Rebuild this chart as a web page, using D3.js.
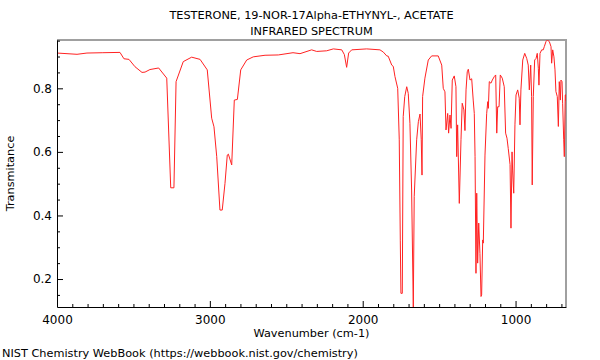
<!DOCTYPE html>
<html><head><meta charset="utf-8">
<script src="https://cdn.jsdelivr.net/npm/d3@7"></script>
<style>body{margin:0;background:#fff}svg{display:block}text{font-family:"DejaVu Sans",sans-serif;fill:#000}</style>
</head><body>
<svg id="c" width="600" height="360"></svg>
<script>
const titleLines = ["TESTERONE, 19-NOR-17Alpha-ETHYNYL-, ACETATE", "INFRARED SPECTRUM"];
const xLabel = "Wavenumber (cm-1)";
const yLabel = "Transmitance";
const footer = "NIST Chemistry WebBook (https://webbook.nist.gov/chemistry)";
const xMajor = [4000, 3000, 2000, 1000];
const yMajor = [0.2, 0.4, 0.6, 0.8];
const wavenumber = [4000,3869,3804,3700,3588,3562,3529,3490,3444,3424,3392,3335,3282,3256,3235,3221,3174,3119,3064,3017,2988,2973,2955,2934,2919,2901,2886,2879,2857,2840,2820,2798,2759,2716,2639,2552,2456,2410,2334,2301,2236,2192,2137,2120,2105,2092,2072,1974,1887,1865,1843,1833,1810,1800,1789,1771,1761,1754,1750,1741,1735,1725,1712,1702,1691,1680,1669,1663,1647,1636,1625,1617,1612,1608,1593,1571,1549,1506,1483,1473,1462,1455,1444,1438,1429,1422,1414,1401,1390,1385,1379,1368,1357,1349,1338,1331,1324,1316,1309,1298,1287,1277,1270,1265,1259,1254,1248,1241,1233,1226,1222,1215,1211,1200,1189,1182,1178,1172,1161,1152,1139,1130,1123,1117,1108,1100,1087,1074,1065,1056,1048,1036,1030,1023,1019,1012,1004,997,986,976,971,965,953,940,927,917,910,901,895,891,884,875,866,858,851,847,840,829,819,812,801,792,779,768,764,757,749,742,736,727,720,714,707,703,696,692,685,681,675,672,670];
const transmittance = [0.911,0.907,0.911,0.912,0.913,0.893,0.891,0.868,0.850,0.851,0.859,0.864,0.832,0.487,0.487,0.821,0.884,0.898,0.891,0.858,0.706,0.679,0.585,0.417,0.417,0.501,0.590,0.593,0.559,0.763,0.765,0.858,0.889,0.899,0.904,0.905,0.912,0.909,0.921,0.916,0.918,0.924,0.921,0.906,0.866,0.911,0.921,0.924,0.921,0.914,0.902,0.901,0.873,0.869,0.837,0.800,0.640,0.320,0.155,0.155,0.711,0.774,0.805,0.784,0.690,0.480,0.112,0.459,0.638,0.695,0.719,0.638,0.527,0.774,0.832,0.889,0.902,0.902,0.873,0.800,0.789,0.669,0.721,0.659,0.716,0.674,0.826,0.839,0.805,0.585,0.685,0.438,0.638,0.753,0.732,0.667,0.795,0.852,0.860,0.826,0.830,0.763,0.721,0.585,0.218,0.470,0.250,0.376,0.280,0.145,0.150,0.323,0.313,0.590,0.720,0.758,0.737,0.821,0.816,0.826,0.837,0.842,0.659,0.742,0.742,0.842,0.832,0.805,0.659,0.643,0.611,0.560,0.360,0.600,0.540,0.470,0.685,0.779,0.795,0.769,0.685,0.795,0.889,0.910,0.894,0.873,0.795,0.873,0.774,0.496,0.774,0.889,0.894,0.910,0.863,0.810,0.910,0.921,0.921,0.931,0.947,0.952,0.947,0.931,0.879,0.921,0.899,0.858,0.790,0.774,0.680,0.821,0.763,0.826,0.821,0.753,0.638,0.585,0.779,0.780,0.760];

const W = 600, H = 360;
const m = {left: 57, right: 34, top: 40, bottom: 53};
const svg = d3.select("#c");
const x = d3.scaleLinear().domain([4000, 670]).range([m.left, W - m.right]);
const y = d3.scaleLinear().domain([0.112, 0.952]).range([H - m.bottom, m.top]);
const x0 = m.left, x1 = W - m.right, y0 = H - m.bottom, y1 = m.top;

svg.append("defs").append("clipPath").attr("id", "clip")
  .append("rect").attr("x", x0).attr("y", y1).attr("width", x1 - x0).attr("height", y0 - y1);

// gray frame top/right
svg.append("path").attr("d", `M${x0},${y1}H${x1}V${y0}`).attr("fill", "none")
  .attr("stroke", "#a0a0a0").attr("stroke-width", 2);

const data = wavenumber.map((w, i) => [w, transmittance[i]]);
svg.append("path").datum(data).attr("clip-path", "url(#clip)")
  .attr("fill", "none").attr("stroke", "#ff2222").attr("stroke-width", 1)
  .attr("stroke-linejoin", "round")
  .attr("d", d3.line().x(d => x(d[0])).y(d => y(d[1])));

// axes
const xMinor = d3.range(700, 4000, 100).filter(v => v % 1000 !== 0);
const yMinor = d3.range(0.15, 0.96, 0.05).map(v => +v.toFixed(2)).filter(v => !yMajor.includes(v));

const gx = svg.append("g").attr("transform", `translate(0,${y0})`);
gx.call(d3.axisBottom(x).tickValues(xMajor).tickSizeInner(-6).tickSizeOuter(0).tickPadding(8).tickFormat(d3.format("d")));
gx.append("g").call(d3.axisBottom(x).tickValues(xMinor).tickSizeInner(-3).tickSizeOuter(0).tickFormat(""))
  .select(".domain").remove();
const gy = svg.append("g").attr("transform", `translate(${x0},0)`);
gy.call(d3.axisLeft(y).tickValues(yMajor).tickSizeInner(-6).tickSizeOuter(0).tickPadding(5).tickFormat(d3.format(".1f")));
gy.append("g").call(d3.axisLeft(y).tickValues(yMinor).tickSizeInner(-3).tickSizeOuter(0).tickFormat(""))
  .select(".domain").remove();
svg.selectAll(".tick text").attr("font-size", 12).attr("font-family", "DejaVu Sans");
svg.selectAll(".domain, .tick line").attr("stroke", "#000");

// texts
const fs = 11.3;
svg.selectAll(".title").data(titleLines).join("text").attr("class", "title")
  .attr("x", (x0 + x1) / 2).attr("y", (d, i) => 19 + i * 16).attr("text-anchor", "middle")
  .attr("font-size", fs).text(d => d);
svg.append("text").attr("x", (x0 + x1) / 2).attr("y", 337).attr("text-anchor", "middle")
  .attr("font-size", fs).text(xLabel);
svg.append("text").attr("transform", `translate(14,${(y0 + y1) / 2}) rotate(-90)`)
  .attr("text-anchor", "middle").attr("font-size", fs).text(yLabel);
svg.append("text").attr("x", 2).attr("y", 357).attr("font-size", fs).text(footer);
</script>
</body></html>
